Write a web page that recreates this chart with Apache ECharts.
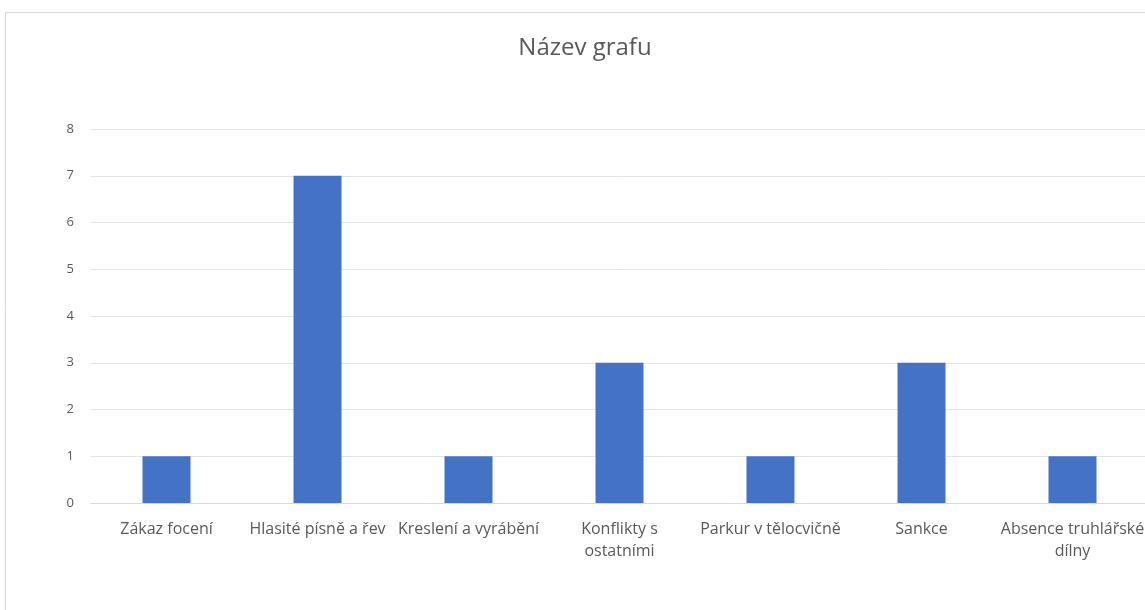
<!DOCTYPE html>
<html>
<head>
<meta charset="utf-8">
<script src="https://cdn.jsdelivr.net/npm/echarts@6/dist/echarts.min.js"></script>
<style>
html,body{margin:0;padding:0;background:#fff;overflow:hidden;}
#c{width:1160px;height:610px;}
</style>
</head>
<body>
<div id="c"></div>
<script>
const title = 'Název grafu';
const categories = ['Zákaz focení', 'Hlasité písně a řev', 'Kreslení a vyrábění', 'Konflikty s\nostatními', 'Parkur v tělocvičně', 'Sankce', 'Absence truhlářské\ndílny'];
const values = [1, 7, 1, 3, 1, 3, 1];
const yTicks = [0, 1, 2, 3, 4, 5, 6, 7, 8];

const chart = echarts.init(document.getElementById('c'), null, {renderer: 'canvas'});
chart.setOption({
  backgroundColor: '#ffffff',
  animation: false,
  graphic: [{
    type: 'rect', silent: true, z: -1,
    shape: {x: 5.5, y: 12.5, width: 1300, height: 800},
    style: {fill: 'none', stroke: '#d9d9d9', lineWidth: 1}
  }],
  title: {
    text: title, left: 580, top: 31, textAlign: 'center',
    textStyle: {fontFamily: 'Open Sans', fontSize: 24, fontWeight: 'normal', color: '#595959'}
  },
  grid: {left: 91, top: 129, width: 1057, height: 374, containLabel: false},
  xAxis: {
    type: 'category', data: categories,
    axisLine: {lineStyle: {color: '#d9d9d9'}},
    axisTick: {show: false},
    axisLabel: {interval: 0, margin: 15, color: '#595959', fontFamily: 'Open Sans', fontSize: 16, lineHeight: 22}
  },
  yAxis: {
    type: 'value', min: yTicks[0], max: yTicks[yTicks.length - 1], interval: 1,
    axisLine: {show: false}, axisTick: {show: false},
    splitLine: {lineStyle: {color: '#e4e4e4'}},
    axisLabel: {margin: 17, color: '#595959', fontFamily: 'Open Sans', fontSize: 13}
  },
  series: [{
    type: 'bar', data: values, barWidth: 48,
    itemStyle: {color: '#4472c4'}
  }]
});
</script>
</body>
</html>
